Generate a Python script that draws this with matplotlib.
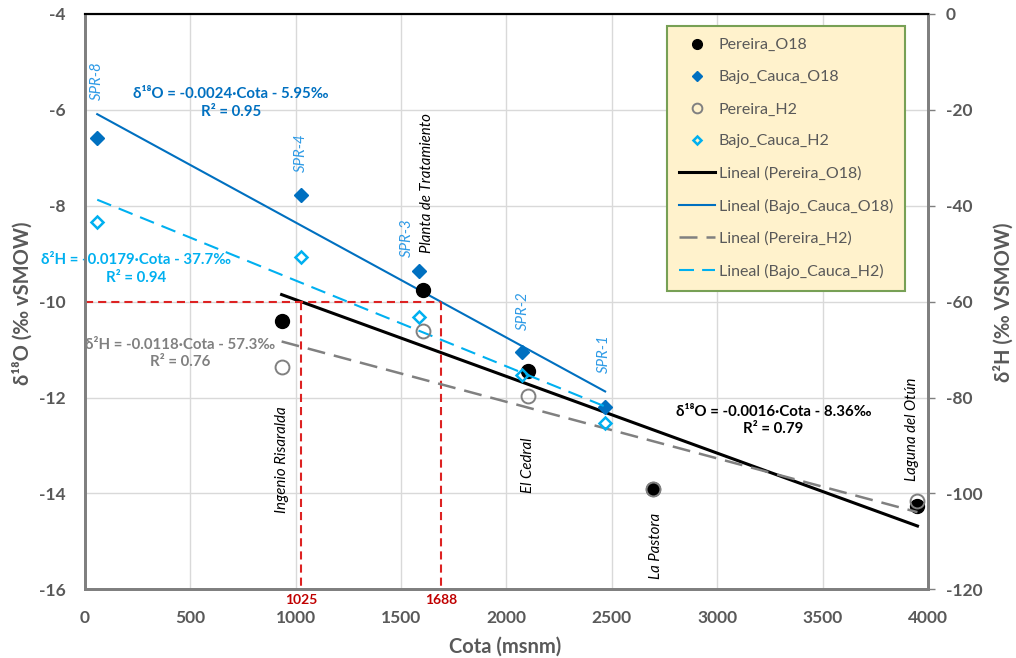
import numpy as np
import matplotlib.pyplot as plt

plt.rcParams['font.family'] = ['Lato', 'DejaVu Sans']
plt.rcParams['axes.unicode_minus'] = False

# Pereira: Ingenio Risaralda, Planta de Tratamiento, El Cedral, La Pastora, Laguna del Otun
cota_per = [933, 1606, 2100, 2696, 3950]
o18_per = [-10.41, -9.75, -11.44, -13.90, -14.26]
h2_per = [-73.6, -66.2, -79.7, -99.0, -101.5]
sitios_per = ['Ingenio Risaralda', 'Planta de Tratamiento', 'El Cedral', 'La Pastora', 'Laguna del Otún']

# Bajo Cauca: SPR-8, SPR-4, SPR-3, SPR-2, SPR-1
cota_bc = [58, 1026, 1586, 2075, 2468]
o18_bc = [-6.59, -7.77, -9.37, -11.05, -12.19]
h2_bc = [-43.3, -50.6, -63.3, -75.4, -85.4]
sitios_bc = ['SPR-8', 'SPR-4', 'SPR-3', 'SPR-2', 'SPR-1']

# lineas de tendencia (Excel): Pereira_O18, Bajo_Cauca_O18, Pereira_H2, Bajo_Cauca_H2
fit_pend = [-0.0016, -0.0024, -0.0118, -0.0179]
fit_int = [-8.36, -5.95, -57.3, -37.7]
fit_r2 = [0.79, 0.95, 0.76, 0.94]

# corte en d18O = -10
ref_o18 = -10
ref_cota = [1025, 1688]

GRIS = '#595959'
AZUL = '#0070c0'
CIAN = '#00b0f0'
GRIS_H = '#808080'

fig = plt.figure(figsize=(10.16, 6.58), dpi=100)
ax = fig.add_axes([85/1016, 1-589.3/658, (928-85)/1016, (589.3-14)/658])
ax2 = ax.twinx()

ax.set_xlim(0, 4000)
ax.set_ylim(-16, -4)
ax2.set_ylim(-120, 0)
ax.set_xticks(range(0, 4001, 500))
ax.set_yticks(range(-16, -3, 2))
ax2.set_yticks(range(-120, 1, 20))
ax.grid(color='#d9d9d9', lw=1)
ax.set_axisbelow(True)

ax.tick_params(axis='y', length=0, pad=14, labelsize=12.5, labelcolor=GRIS)
ax.tick_params(axis='x', length=0, pad=15, labelsize=12.5, labelcolor=GRIS)
ax2.tick_params(axis='y', length=5, width=1, color='#7f7f7f', pad=8, labelsize=12.5, labelcolor=GRIS)
for lbl in ax.get_xticklabels() + ax.get_yticklabels() + ax2.get_yticklabels():
    lbl.set_fontweight('bold')

for a in (ax, ax2):
    for s in ('left', 'right', 'bottom'):
        a.spines[s].set_color('#7f7f7f')
        a.spines[s].set_linewidth(2)
    a.spines['top'].set_color('black')
    a.spines['top'].set_linewidth(1.5)

# puntos
h1, = ax.plot(cota_per, o18_per, 'o', color='black', ms=10, label='Pereira_O18', zorder=4)
h2, = ax.plot(cota_bc, o18_bc, 'D', color=AZUL, ms=7, label='Bajo_Cauca_O18', zorder=4)
h3, = ax2.plot(cota_per, h2_per, 'o', mfc='none', mec=GRIS_H, mew=1.4, ms=10, label='Pereira_H2', zorder=4)
h4, = ax2.plot(cota_bc, h2_bc, 'D', mfc='none', mec=CIAN, mew=1.8, ms=6.5, label='Bajo_Cauca_H2', zorder=4)

# tendencias
xp = np.array([min(cota_per), max(cota_per)])
xb = np.array([min(cota_bc), max(cota_bc)])
t1, = ax.plot(xp, fit_pend[0]*xp + fit_int[0], color='black', lw=2.2, label='Lineal (Pereira_O18)')
t2, = ax.plot(xb, fit_pend[1]*xb + fit_int[1], color=AZUL, lw=1.5, label='Lineal (Bajo_Cauca_O18)')
t3, = ax2.plot(xp, fit_pend[2]*xp + fit_int[2], color=GRIS_H, lw=1.8, dashes=(7.2, 3.6),
               label='Lineal (Pereira_H2)')
t4, = ax2.plot(xb, fit_pend[3]*xb + fit_int[3], color=CIAN, lw=1.5, dashes=(7.2, 3.9),
               label='Lineal (Bajo_Cauca_H2)')

# lineas rojas
ax.plot([0, max(ref_cota)], [ref_o18, ref_o18], color='#dd2222', lw=1.5, dashes=(3.9, 2.4), zorder=3)
for c in ref_cota:
    ax.plot([c, c], [ref_o18, -16], color='#dd2222', lw=1.5, dashes=(3.9, 2.4), zorder=3)
    ax.annotate(str(c), (c, -16), xytext=(0, -8), textcoords='offset points', ha='center', va='center',
                color='#c00000', fontsize=10, fontweight='bold', annotation_clip=False)

# ecuaciones
def ecuacion(i, iso):
    return f"{iso} = {fit_pend[i]}·Cota - {abs(fit_int[i])}‰\nR² = {fit_r2[i]}"

kw = dict(ha='center', va='center', fontsize=10.8, fontweight='bold', linespacing=1.35, clip_on=False)
ax.text(3266, -12.48, ecuacion(0, 'δ¹⁸O'), color='black', **kw)
ax.text(693, -5.86, ecuacion(1, 'δ¹⁸O'), color=AZUL, **kw)
ax.text(453, -11.08, ecuacion(2, 'δ²H'), color=GRIS_H, **kw)
ax.text(242, -9.32, ecuacion(3, 'δ²H'), color=CIAN, **kw)

# nombres de sitios
pos_per = [(933, -14.40), (1621, -8.99), (2100, -13.99), (2707, -15.78), (3926, -13.74)]
pos_bc = [(57, -5.79), (1025, -7.29), (1529, -9.06), (2076, -10.60), (2464, -11.49)]
for s, (x, y) in zip(sitios_per, pos_per):
    ax.text(x, y, s, rotation=90, ha='center', va='bottom', style='italic', fontsize=10.8, color='black')
for s, (x, y) in zip(sitios_bc, pos_bc):
    ax.text(x, y, s, rotation=90, ha='center', va='bottom', style='italic', fontsize=10.8, color='#2f9be6')

fig.text(23/1016, 1-303/658, 'δ¹⁸O (‰ vSMOW)', rotation=90, ha='center', va='center',
         fontsize=14.5, fontweight='bold', color=GRIS)
fig.text(1004/1016, 1-302/658, 'δ²H (‰ VSMOW)', rotation=90, ha='center', va='center',
         fontsize=14.5, fontweight='bold', color=GRIS)
fig.text(505/1016, 1-647/658, 'Cota (msnm)', ha='center', va='center',
         fontsize=14.5, fontweight='bold', color=GRIS)

leg = ax2.legend([h1, h2, h3, h4, t1, t2, t3, t4], [h.get_label() for h in [h1, h2, h3, h4, t1, t2, t3, t4]],
                 loc='upper left', bbox_to_anchor=(0.690, 0.979), borderaxespad=0, fontsize=11.5,
                 labelspacing=1.12, handlelength=2.3, handletextpad=0.2, borderpad=0.75,
                 markerscale=0.7, fancybox=False, framealpha=1)
leg.get_frame().set_facecolor('#fff2cc')
leg.get_frame().set_edgecolor('#77a055')
leg.get_frame().set_linewidth(1.5)
for t in leg.get_texts():
    t.set_color(GRIS)

fig.savefig('out.png', dpi=100)
